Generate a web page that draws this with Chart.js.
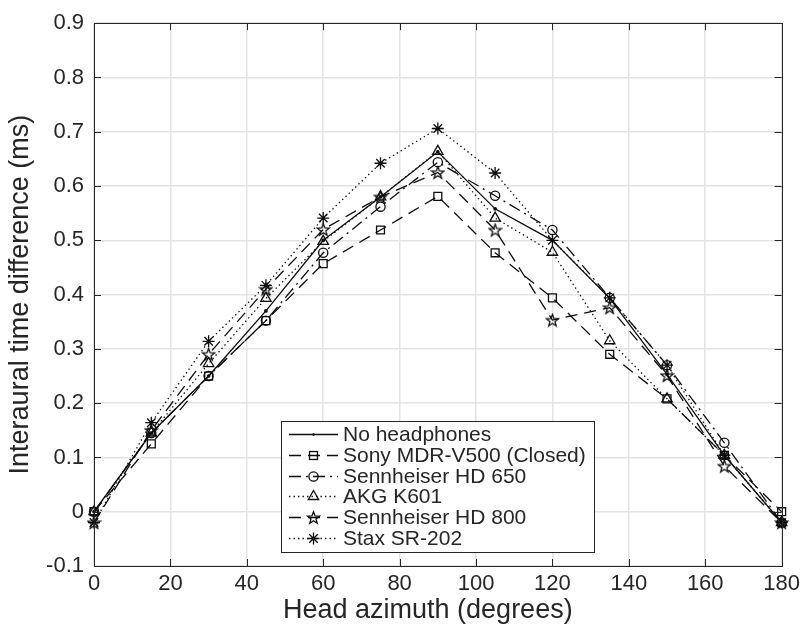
<!DOCTYPE html>
<html>
<head>
<meta charset="utf-8">
<title>Interaural time difference vs head azimuth</title>
<script src="https://cdn.jsdelivr.net/npm/chart.js@4.4.1/dist/chart.umd.min.js"></script>
<style>
  html, body { margin: 0; padding: 0; background: #ffffff; }
  #wrap { width: 805px; height: 626px; }
</style>
</head>
<body>
<div id="wrap"><canvas id="itd" width="805" height="626"></canvas></div>
<script>
// Head azimuth in degrees (x values shared by every series)
const azimuth = [0, 15, 30, 45, 60, 75, 90, 105, 120, 135, 150, 165, 180];

// Axis tick values
const xTickValues = [0, 20, 40, 60, 80, 100, 120, 140, 160, 180];
const yTickValues = [-0.1, 0, 0.1, 0.2, 0.3, 0.4, 0.5, 0.6, 0.7, 0.8, 0.9];

// Legend entries
const seriesNames = [
  'No headphones',
  'Sony MDR-V500 (Closed)',
  'Sennheiser HD 650',
  'AKG K601',
  'Sennheiser HD 800',
  'Stax SR-202'
];

// Interaural time difference (ms) per condition
const noHeadphones = [0, 0.145, 0.25, 0.37, 0.50, 0.58, 0.663, 0.558, 0.50, 0.393, 0.253, 0.104, -0.02];
const sonyMdrV500  = [0, 0.125, 0.25, 0.352, 0.457, 0.519, 0.581, 0.477, 0.394, 0.29, 0.208, 0.104, 0.0];
const sennHd650    = [0, 0.145, 0.25, 0.352, 0.477, 0.562, 0.644, 0.582, 0.519, 0.394, 0.27, 0.127, -0.02];
const akgK601      = [0, 0.145, 0.273, 0.393, 0.498, 0.58, 0.664, 0.541, 0.478, 0.315, 0.208, 0.104, -0.02];
const sennHd800    = [-0.02, 0.15, 0.29, 0.41, 0.52, 0.58, 0.625, 0.519, 0.353, 0.376, 0.251, 0.084, -0.02];
const staxSr202    = [-0.02, 0.164, 0.314, 0.417, 0.541, 0.642, 0.706, 0.624, 0.50, 0.394, 0.27, 0.104, -0.02];

const xTitle = 'Head azimuth (degrees)';
const yTitle = 'Interaural time difference (ms)';

const FONT = "'Liberation Sans', Arial, Helvetica, sans-serif";
const INK = '#0d0d0d';
const AXIS = '#262626';
const LW = 1.3;

// Outlined five-point star used as a point style
function pentagram(size) {
  const c = document.createElement('canvas');
  c.width = size; c.height = size;
  const g = c.getContext('2d');
  const cx = size / 2, cy = size / 2 + 0.6, R = size / 2 - 1.2, r = R * 0.42;
  g.beginPath();
  for (let i = 0; i < 10; i++) {
    const a = -Math.PI / 2 + i * Math.PI / 5;
    const rr = i % 2 ? r : R;
    g.lineTo(cx + rr * Math.cos(a), cy + rr * Math.sin(a));
  }
  g.closePath();
  g.strokeStyle = INK;
  g.lineWidth = 1.3;
  g.lineJoin = 'miter';
  g.stroke();
  return c;
}
const starImg = pentagram(15);

const DASHED = [12, 7];
const DASHDOT = [12, 5, 2, 5];
const DOTTED = [1.4, 3.1];

function series(label, data, style, radius, dash) {
  return {
    label: label,
    data: azimuth.map((x, i) => ({ x: x, y: data[i] })),
    borderColor: INK,
    borderWidth: LW,
    borderDash: dash,
    backgroundColor: 'rgba(0,0,0,0)',
    pointStyle: style,
    pointRadius: radius,
    pointBorderColor: INK,
    pointBackgroundColor: style === 'circle' && radius < 2 ? INK : 'rgba(0,0,0,0)',
    pointBorderWidth: LW,
    pointHoverRadius: radius,
    tension: 0,
    clip: false,
    fill: false
  };
}

const datasets = [
  series(seriesNames[0], noHeadphones, 'circle', 1.2, []),
  series(seriesNames[1], sonyMdrV500, 'rect', 5.6, DASHED),
  series(seriesNames[2], sennHd650, 'circle', 4.6, DASHDOT),
  series(seriesNames[3], akgK601, 'triangle', 6, DOTTED),
  series(seriesNames[4], sennHd800, starImg, 6, DASHED),
  series(seriesNames[5], staxSr202, 'star', 6, DOTTED)
];

// Marker drawing for the legend samples
function drawMarker(ctx, ds, x, y) {
  const s = ds.pointStyle, r = ds.pointRadius;
  ctx.save();
  ctx.setLineDash([]);
  ctx.strokeStyle = INK;
  ctx.fillStyle = INK;
  ctx.lineWidth = LW;
  if (s instanceof HTMLCanvasElement) {
    ctx.drawImage(s, x - s.width / 2, y - s.height / 2);
  } else if (s === 'rect') {
    const h = r * Math.SQRT1_2;
    ctx.strokeRect(x - h, y - h, 2 * h, 2 * h);
  } else if (s === 'circle') {
    ctx.beginPath();
    ctx.arc(x, y, r, 0, Math.PI * 2);
    if (r < 2) ctx.fill(); else ctx.stroke();
  } else if (s === 'triangle') {
    ctx.beginPath();
    for (let i = 0; i < 3; i++) {
      const a = i * 2 * Math.PI / 3;
      ctx.lineTo(x + Math.sin(a) * r, y - Math.cos(a) * r);
    }
    ctx.closePath();
    ctx.stroke();
  } else if (s === 'star') {
    ctx.beginPath();
    for (let i = 0; i < 4; i++) {
      const a = i * Math.PI / 4;
      ctx.moveTo(x - Math.cos(a) * r, y - Math.sin(a) * r);
      ctx.lineTo(x + Math.cos(a) * r, y + Math.sin(a) * r);
    }
    ctx.stroke();
  }
  ctx.restore();
}

// Box around the axes with inward tick marks on all four sides, plus the x label
const axesBox = {
  id: 'axesBox',
  afterDatasetsDraw(chart) {
    const { ctx, chartArea: a, scales } = chart;
    const L = 7;
    ctx.save();
    ctx.strokeStyle = AXIS;
    ctx.lineWidth = 1;
    ctx.setLineDash([]);
    ctx.strokeRect(Math.round(a.left) + 0.5, Math.round(a.top) + 0.5,
                   Math.round(a.right - a.left), Math.round(a.bottom - a.top));
    ctx.beginPath();
    xTickValues.forEach(v => {
      const px = Math.round(scales.x.getPixelForValue(v)) + 0.5;
      ctx.moveTo(px, a.bottom); ctx.lineTo(px, a.bottom - L);
      ctx.moveTo(px, a.top); ctx.lineTo(px, a.top + L);
    });
    yTickValues.forEach(v => {
      const py = Math.round(scales.y.getPixelForValue(v)) + 0.5;
      ctx.moveTo(a.left, py); ctx.lineTo(a.left + L, py);
      ctx.moveTo(a.right, py); ctx.lineTo(a.right - L, py);
    });
    ctx.stroke();

    ctx.fillStyle = AXIS;
    ctx.font = '27px ' + FONT;
    ctx.textAlign = 'center';
    ctx.textBaseline = 'middle';
    ctx.fillText(xTitle, (a.left + a.right) / 2 - 10, chart.height - 15);
    ctx.restore();
  }
};

// Legend box placed at the bottom centre of the axes
const legendBox = {
  id: 'legendBox',
  afterDraw(chart) {
    const { ctx, chartArea: a } = chart;
    const fontPx = 21, rowH = 20.7;
    const padL = 8, lineLen = 49, gap = 5, padR = 8, padT = 3, padB = 4;
    ctx.save();
    ctx.font = fontPx + 'px ' + FONT;
    const textW = Math.max(...seriesNames.map(n => ctx.measureText(n).width));
    const w = padL + lineLen + gap + textW + padR;
    const h = padT + rowH * seriesNames.length + padB;
    const left = Math.round((a.left + a.right) / 2 - w / 2);
    const top = Math.round(a.bottom - 14 - h);
    ctx.fillStyle = '#ffffff';
    ctx.fillRect(left, top, w, h);
    ctx.strokeStyle = AXIS;
    ctx.lineWidth = 1;
    ctx.strokeRect(left + 0.5, top + 0.5, Math.round(w), Math.round(h));
    chart.data.datasets.forEach((ds, i) => {
      const cy = top + padT + rowH * (i + 0.5);
      const x0 = left + padL, x1 = x0 + lineLen;
      ctx.beginPath();
      ctx.setLineDash(ds.borderDash || []);
      ctx.strokeStyle = INK;
      ctx.lineWidth = LW;
      ctx.moveTo(x0, Math.round(cy) + 0.5);
      ctx.lineTo(x1, Math.round(cy) + 0.5);
      ctx.stroke();
      ctx.setLineDash([]);
      drawMarker(ctx, ds, (x0 + x1) / 2, Math.round(cy) + 0.5);
      ctx.fillStyle = AXIS;
      ctx.textAlign = 'left';
      ctx.textBaseline = 'middle';
      ctx.fillText(ds.label, x1 + gap, cy + 1);
    });
    ctx.restore();
  }
};

new Chart(document.getElementById('itd'), {
  type: 'line',
  data: { datasets: datasets },
  options: {
    responsive: false,
    animation: false,
    devicePixelRatio: 1,
    events: [],
    layout: { padding: { left: 0, top: 23, right: 22, bottom: 0 } },
    plugins: { legend: { display: false }, tooltip: { enabled: false } },
    scales: {
      x: {
        type: 'linear',
        min: 0,
        max: 180,
        afterBuildTicks(scale) { scale.ticks = xTickValues.map(v => ({ value: v })); },
        afterFit(scale) { scale.height = 60; },
        ticks: {
          color: AXIS,
          padding: 5,
          maxRotation: 0,
          autoSkip: false,
          font: { family: FONT, size: 22 },
          callback: v => String(v)
        },
        grid: { color: '#e3e3e3', lineWidth: 1.5, drawTicks: false },
        border: { display: true, color: AXIS, width: 1 },
        title: { display: false }
      },
      y: {
        type: 'linear',
        min: -0.1,
        max: 0.9,
        afterBuildTicks(scale) { scale.ticks = yTickValues.map(v => ({ value: v })); },
        afterFit(scale) { scale.width = 94; },
        ticks: {
          color: AXIS,
          padding: 10,
          autoSkip: false,
          font: { family: FONT, size: 22 },
          callback: v => (Math.abs(v) < 1e-9 ? '0' : v.toFixed(1))
        },
        grid: { color: '#e3e3e3', lineWidth: 1.5, drawTicks: false },
        border: { display: true, color: AXIS, width: 1 },
        title: {
          display: true,
          text: yTitle,
          color: AXIS,
          font: { family: FONT, size: 27 },
          padding: { top: 4, bottom: 0 }
        }
      }
    }
  },
  plugins: [axesBox, legendBox]
});
</script>
</body>
</html>
